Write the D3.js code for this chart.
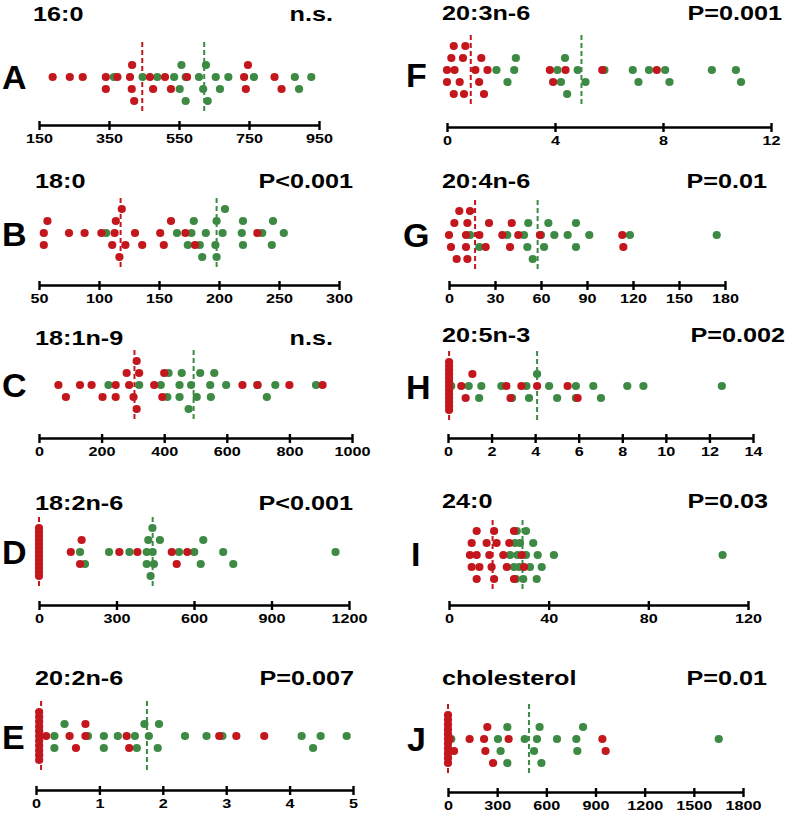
<!DOCTYPE html>
<html><head><meta charset="utf-8">
<script src="https://cdn.jsdelivr.net/npm/d3@7"></script>
<style>
body{margin:0;background:#fff}
text{font-family:"Liberation Sans",Arial,Helvetica,sans-serif;font-weight:bold;fill:#000}
</style>
</head><body><svg id="c" width="786" height="813"></svg>
<script>
// ---------- data ----------
const letters = ["A","B","C","D","E","F","G","H","I","J"];
const titles = ["16:0","18:0","18:1n-9","18:2n-6","20:2n-6","20:3n-6","20:4n-6","20:5n-3","24:0","cholesterol"];
const pLabels = ["n.s.","P<0.001","n.s.","P<0.001","P=0.007","P=0.001","P=0.01","P=0.002","P=0.03","P=0.01"];
const domains = [[150,950],[50,300],[0,1000],[0,1200],[0,5],[0,12],[0,180],[0,14],[0,120],[0,1800]];
const tickValues = [
  [150,350,550,750,950],
  [50,100,150,200,250,300],
  [0,200,400,600,800,1000],
  [0,300,600,900,1200],
  [0,1,2,3,4,5],
  [0,4,8,12],
  [0,30,60,90,120,150,180],
  [0,2,4,6,8,10,12,14],
  [0,40,80,120],
  [0,300,600,900,1200,1500,1800]
];

const redA = [189,238,275,341,341,374,410,415,416,422,467,476,510,527,573,736,741,747,823,843];
const greenA = [364,446,488,536,552,557,569,569,607,619,627,632,655,667,691,764,881,893,928];
const redB = [54,54,57,75,88,102,111,113,114,117,119,122,130,136,151,154,160,172,180,232];
const greenB = [106,165,174,177,179,184,186,189,197,198,198,203,205,219,220,220,236,244,245,254];
const redC = [62,86,131,168,203,245,245,280,288,302,312,312,320,368,394,400,650,698,800,906];
const greenC = [222,320,389,410,414,449,449,456,478,486,504,515,547,549,560,598,698,728,755,885];
const redD = [0,0,0,0,0,0,0,0,0,0,0,0,0,123,159,165,311,381,514,533,574];
const greenD = [159,178,271,350,417,417,423,432,439,440,445,468,542,601,626,636,713,752,1148];
const redE = [0.05,0.05,0.05,0.05,0.05,0.05,0.05,0.05,0.05,0.05,0.05,0.16,0.53,0.63,0.78,0.78,1.43,1.47,2.89,3.16,3.6];
const greenE = [0.29,0.29,0.45,0.82,1.07,1.07,1.29,1.56,1.59,1.71,1.78,1.92,1.94,2.35,2.69,2.94,4.19,4.37,4.49,4.9];
const redF = [0,0,0.16,0.25,0.25,0.28,0.47,0.59,0.63,0.68,1.05,1.19,1.27,1.37,1.5,3.81,3.93,4.39,5.75,7.77];
const greenF = [1.83,2.24,2.49,2.55,4.09,4.22,4.37,4.45,4.84,5.13,5.83,6.88,7.09,7.48,8.08,8.24,9.81,10.7,10.89];
const redG = [0,1.3,3.5,5,6.7,11.1,11.1,12,12,13.7,19.8,23.9,26.1,34.8,39.8,40.9,45.2,59.3,113,113.7];
const greenG = [13.7,19.8,38,48.9,51.1,51.7,54.6,60,62,64.8,68.7,77.4,82.8,82.8,91.5,118,174.6];
const redH = [0.05,0.05,0.05,0.05,0.05,0.05,0.05,0.05,0.05,0.05,0.05,0.05,0.05,0.61,0.81,1.12,2.68,2.87,3.37,4.09,5.49,5.95];
const greenH = [0.15,0.95,1.43,1.53,2.45,2.94,3.6,3.72,4.09,4.64,5.01,5.87,5.87,6.67,7.02,8.23,8.97,12.57];
const redI = [8.4,9.1,9.1,11.1,11.1,11.1,12.2,15.1,16.2,17.1,18.1,18.1,19.1,21.8,23.2,24.2,26.1,26.1,29.2,30.1];
const greenI = [24.5,26.1,26.5,26.9,27.2,27.5,28.2,28.5,29.8,30.9,30.9,32.5,33.8,35.2,35.6,37.2,42.1,109.8];
const redJ = [0,0,0,0,0,0,0,0,0,0,0,10,37,132,220,228,240,275,370,942,962];
const greenJ = [20,305,321,362,362,468,525,543,559,570,665,783,789,824,1652];

const redSeries = [redA,redB,redC,redD,redE,redF,redG,redH,redI,redJ];
const greenSeries = [greenA,greenB,greenC,greenD,greenE,greenF,greenG,greenH,greenI,greenJ];
const redMedians = [445,118,305,0,0.08,0.88,17,0.05,17.5,0];
const greenMedians = [622,198,494,440,1.75,4.98,57.8,4.09,29.5,494];

// ---------- layout ----------
const RED = "#c3161d", GREEN = "#3d8a45";
const layout = [
  {x0:39, x1:319, axisY:125, rowY:77,  titleY:21,  pRight:333, letterX:2,   letterY:89},
  {x0:39, x1:339, axisY:285, rowY:233, titleY:188, pRight:353, letterX:2,   letterY:246},
  {x0:39, x1:352, axisY:438, rowY:385, titleY:345, pRight:333, letterX:2,   letterY:397},
  {x0:39, x1:349, axisY:605, rowY:552, titleY:510, pRight:353, letterX:2,   letterY:564},
  {x0:36, x1:353, axisY:790, rowY:736, titleY:685, pRight:354, letterX:2,   letterY:749},
  {x0:447,x1:771, axisY:127, rowY:70,  titleY:20,  pRight:782, letterX:406, letterY:87},
  {x0:449,x1:725, axisY:285, rowY:235, titleY:188, pRight:767, letterX:403, letterY:247},
  {x0:448,x1:753, axisY:438, rowY:386, titleY:342, pRight:785, letterX:406, letterY:399},
  {x0:449,x1:748, axisY:605, rowY:555, titleY:508, pRight:768, letterX:411, letterY:566},
  {x0:448,x1:743, axisY:792, rowY:739, titleY:685, pRight:767, letterX:407, letterY:751}
];
const titleLeft = [33,35,35,35,35,442,442,442,442,442];
const LANE = 12, R = 4.1, THR = 11.5;

function swarm(values, x) {
  const counts = d3.rollup(values, v => v.length, d => d);
  const colVals = new Set([...counts].filter(([k, c]) => c >= 6).map(([k]) => k));
  const pts = [];
  colVals.forEach(v => {
    const n = counts.get(v);
    for (let i = 0; i < n; i++) pts.push({v, dy: -2 * LANE + i * (4 * LANE) / (n - 1)});
  });
  const placed = [];
  const order = [0, 1, -1, 2, -2];
  values.filter(v => !colVals.has(v)).sort(d3.ascending).forEach(v => {
    const px = x(v);
    let best = 0, bestGap = -1;
    for (const lane of order) {
      const g = d3.min(placed.filter(p => p.lane === lane), p => Math.abs(p.x - px));
      const gap = g === undefined ? Infinity : g;
      if (gap >= THR) { best = lane; bestGap = gap; break; }
      if (gap > bestGap) { bestGap = gap; best = lane; }
    }
    placed.push({x: px, lane: best});
    pts.push({v, dy: best * LANE});
  });
  return pts;
}

const svg = d3.select("#c");
svg.append("rect").attr("width",786).attr("height",813).attr("fill","#fff");

letters.forEach((L, i) => {
  const lo = layout[i];
  const g = svg.append("g");
  const x = d3.scaleLinear().domain(domains[i]).range([lo.x0, lo.x1]);

  // titles
  g.append("g").attr("transform", `translate(${titleLeft[i]},${lo.titleY}) scale(1.2,1)`)
    .append("text").attr("font-size", 21).text(titles[i]);
  g.append("g").attr("transform", `translate(${lo.pRight},${lo.titleY}) scale(1.2,1)`)
    .append("text").attr("font-size", 21).attr("text-anchor","end").text(pLabels[i]);
  g.append("text").attr("x", lo.letterX).attr("y", lo.letterY).attr("font-size", 34).text(L);

  // axis
  const ax = g.append("g").attr("transform", `translate(0,${lo.axisY})`)
    .call(d3.axisBottom(x).tickValues(tickValues[i]).tickSize(5).tickSizeOuter(0).tickFormat(d3.format("d")));
  ax.select(".domain").attr("stroke","#000").attr("stroke-width",2.6);
  ax.selectAll(".tick line").attr("y1",-4).attr("y2",5).attr("stroke","#000").attr("stroke-width",2.4);
  ax.selectAll(".tick text").attr("y",18).attr("dy",0).attr("font-size",13.5)
    .attr("font-family",'"Liberation Sans",Arial,sans-serif').attr("font-weight","bold")
    .attr("fill","#000").attr("transform","scale(1.2,1)");

  // medians
  [[greenMedians[i], GREEN], [redMedians[i], RED]].forEach(([m, col]) => {
    g.append("line").attr("x1", x(m)).attr("x2", x(m))
      .attr("y1", lo.rowY - 35).attr("y2", lo.rowY + 35)
      .attr("stroke", col).attr("stroke-width", 2).attr("stroke-dasharray","5,3");
  });

  // dots: green first, red on top
  [[greenSeries[i], GREEN], [redSeries[i], RED]].forEach(([vals, col]) => {
    g.append("g").selectAll("circle").data(swarm(vals, x)).join("circle")
      .attr("cx", d => x(d.v)).attr("cy", d => lo.rowY + d.dy)
      .attr("r", R).attr("fill", col);
  });
});
</script>
</body></html>
